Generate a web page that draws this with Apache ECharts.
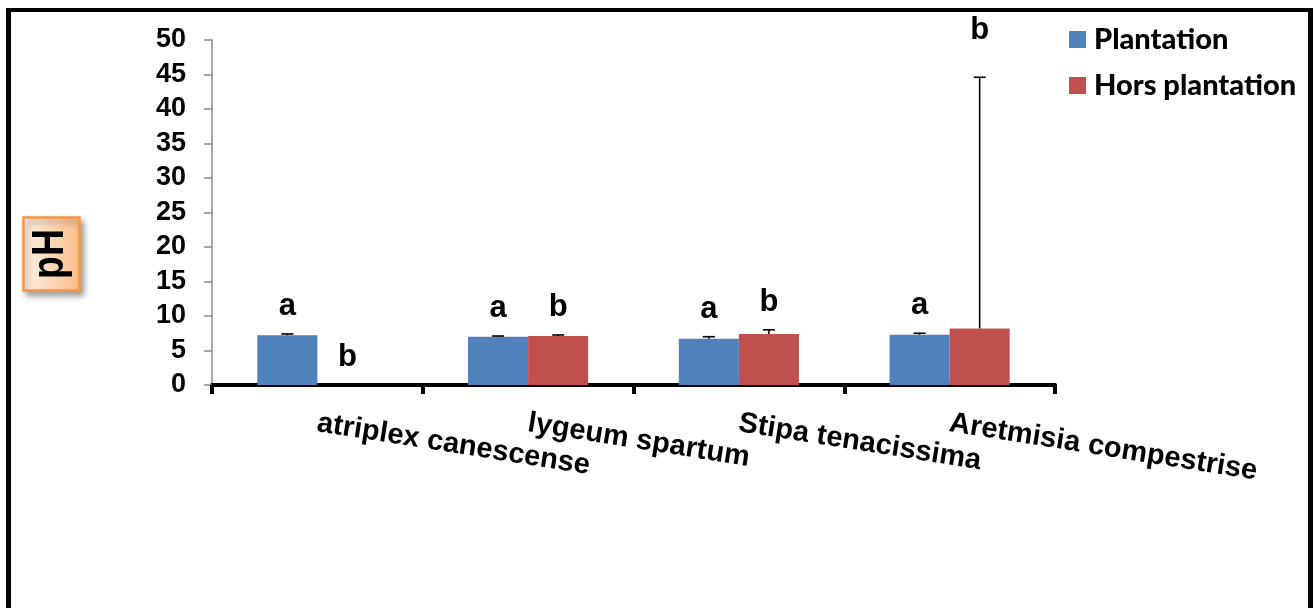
<!DOCTYPE html>
<html>
<head>
<meta charset="utf-8">
<script src="https://cdn.jsdelivr.net/npm/echarts@6/dist/echarts.min.js"></script>
<style>
  html, body { margin: 0; padding: 0; background: #fff; }
  #chart { width: 1313px; height: 608px; }
</style>
</head>
<body>
<div id="chart"></div>
<script>
// Soil pH per species, inside and outside the plantation
const categories = ['atriplex canescense', 'lygeum spartum', 'Stipa tenacissima', 'Aretmisia compestrise'];
const plantation = [7.2, 7.0, 6.7, 7.3];
const plantationErr = [0.2, 0.1, 0.3, 0.2];
const plantationLetters = ['a', 'a', 'a', 'a'];
const horsPlantation = [0, 7.1, 7.4, 8.2];
const horsPlantationErr = [0, 0.15, 0.6, 36.4];
const horsPlantationLetters = ['b', 'b', 'b', 'b'];
const yTicks = [0, 5, 10, 15, 20, 25, 30, 35, 40, 45, 50];

const BLUE = '#4f81bd';
const RED = '#c0504d';
const GAP_FRACTION = 0.43;

// [category index, value, error, letter, side (-1 left bar, +1 right bar)]
const whiskers = [];
categories.forEach((c, i) => {
  whiskers.push([i, plantation[i], plantationErr[i], plantationLetters[i], -1]);
  whiskers.push([i, horsPlantation[i], horsPlantationErr[i], horsPlantationLetters[i], 1]);
});

function renderWhisker(params, api) {
  const idx = api.value(0);
  const val = api.value(1);
  const err = api.value(2);
  const letter = whiskers[params.dataIndex][3];
  const side = api.value(4);
  const band = api.size([1, 0])[0];
  const bw = band * (1 - GAP_FRACTION) / 2;
  const base = api.coord([idx, val]);
  const top = api.coord([idx, val + err]);
  const x = base[0] + side * bw / 2;
  const children = [];
  if (err > 0) {
    children.push({
      type: 'line',
      shape: { x1: x, y1: base[1], x2: x, y2: top[1] },
      style: { stroke: '#000', lineWidth: 1.6 }
    });
    children.push({
      type: 'line',
      shape: { x1: x - 6, y1: top[1], x2: x + 6, y2: top[1] },
      style: { stroke: '#000', lineWidth: 1.6 }
    });
  }
  const lift = err > val ? 31 : 12;
  children.push({
    type: 'text',
    style: {
      text: letter,
      x: x,
      y: top[1] - lift,
      align: 'center',
      verticalAlign: 'bottom',
      fill: '#000',
      font: 'bold 31px "Liberation Sans", Arial, sans-serif'
    }
  });
  return { type: 'group', children: children };
}

const chart = echarts.init(document.getElementById('chart'), null, { renderer: 'canvas' });

chart.setOption({
  backgroundColor: '#ffffff',
  animation: false,
  grid: { left: 212, right: 258, top: 40, bottom: 223, containLabel: false },
  legend: {
    data: ['Plantation', 'Hors plantation'],
    orient: 'vertical',
    left: 1069,
    top: 24,
    icon: 'rect',
    itemWidth: 17,
    itemHeight: 17,
    itemGap: 15,
    padding: 0,
    textStyle: {
      fontFamily: 'Lato, "Open Sans", sans-serif',
      fontWeight: 900,
      fontSize: 29,
      lineHeight: 31,
      color: '#000',
      padding: [0, 0, 0, 3]
    }
  },
  xAxis: {
    type: 'category',
    data: categories,
    axisLine: { show: true, lineStyle: { color: '#000', width: 4 } },
    axisTick: { show: true, interval: 0, length: 9, lineStyle: { color: '#000', width: 4 } },
    axisLabel: {
      interval: 0,
      rotate: -9,
      align: 'left',
      verticalAlign: 'middle',
      margin: 38,
      color: '#000',
      fontFamily: '"Liberation Sans", Arial, sans-serif',
      fontWeight: 'bold',
      fontSize: 29
    },
    splitLine: { show: false }
  },
  yAxis: {
    type: 'value',
    min: yTicks[0],
    max: yTicks[yTicks.length - 1],
    interval: yTicks[1] - yTicks[0],
    axisLine: { show: true, lineStyle: { color: '#8c8c8c', width: 1.5 } },
    axisTick: { show: true, length: 8, lineStyle: { color: '#8c8c8c', width: 1.5 } },
    axisLabel: {
      margin: 26,
      color: '#000',
      fontFamily: '"Liberation Sans", Arial, sans-serif',
      fontWeight: 'bold',
      fontSize: 27
    },
    splitLine: { show: false }
  },
  series: [
    {
      name: 'Plantation',
      type: 'bar',
      data: plantation,
      barGap: '0%',
      barCategoryGap: (GAP_FRACTION * 100) + '%',
      itemStyle: { color: BLUE }
    },
    {
      name: 'Hors plantation',
      type: 'bar',
      data: horsPlantation,
      barGap: '0%',
      barCategoryGap: (GAP_FRACTION * 100) + '%',
      itemStyle: { color: RED }
    },
    {
      name: 'whiskers',
      type: 'custom',
      renderItem: renderWhisker,
      data: whiskers.map(w => [w[0], w[1], w[2], 0, w[4]]),
      encode: { x: 0, y: 1 },
      z: 5,
      silent: true
    }
  ],
  graphic: [
    // outer frame (open at the bottom)
    { type: 'rect', shape: { x: 6, y: 8, width: 5, height: 600 }, style: { fill: '#000' }, z: 100 },
    { type: 'rect', shape: { x: 6, y: 8, width: 1307, height: 4 }, style: { fill: '#000' }, z: 100 },
    { type: 'rect', shape: { x: 1308, y: 8, width: 5, height: 600 }, style: { fill: '#000' }, z: 100 },
    // y axis title box
    {
      type: 'rect',
      shape: { x: 23.5, y: 217.5, width: 56, height: 73 },
      style: {
        fill: new echarts.graphic.LinearGradient(0, 0, 1, 0, [
          { offset: 0, color: '#fff2e8' },
          { offset: 1, color: '#fbbd88' }
        ]),
        stroke: '#f79646',
        lineWidth: 2.5,
        shadowBlur: 6,
        shadowOffsetX: 3,
        shadowOffsetY: 4,
        shadowColor: 'rgba(0,0,0,0.35)'
      },
      z: 100
    },
    {
      type: 'text',
      x: 51,
      y: 254,
      rotation: Math.PI / 2,
      scaleX: 0.85,
      style: {
        text: 'pH',
        align: 'center',
        verticalAlign: 'middle',
        fill: '#000',
        font: 'bold 44px "Liberation Sans", Arial, sans-serif'
      },
      z: 101
    }
  ]
});
</script>
</body>
</html>
